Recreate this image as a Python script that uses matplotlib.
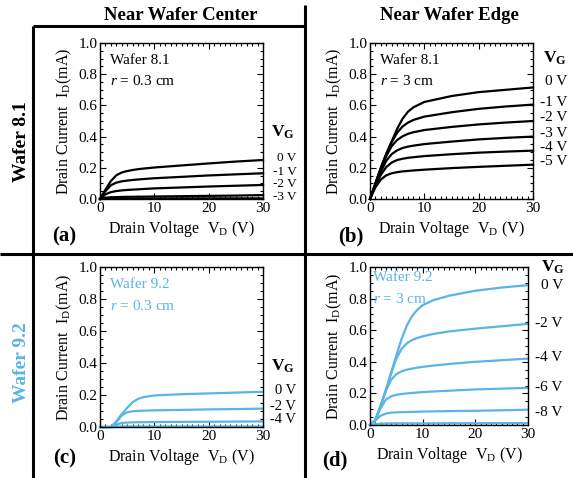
import matplotlib
matplotlib.use("Agg")
import matplotlib.pyplot as plt
import matplotlib.transforms as mtrans
from matplotlib.lines import Line2D
from matplotlib.ticker import MultipleLocator, FormatStrFormatter

plt.rcParams['font.family'] = ['Liberation Serif', 'DejaVu Serif']
plt.rcParams['mathtext.fontset'] = 'custom'
plt.rcParams['mathtext.rm'] = 'Liberation Serif'
plt.rcParams['mathtext.it'] = 'Liberation Serif:italic'
plt.rcParams['mathtext.bf'] = 'Liberation Serif:bold'

BLUE = '#5ab4e6'

# ---------------- data ----------------
vd_grid = [0, 1, 2, 3, 4, 5, 6, 7, 8, 10, 15, 20, 25, 30]
vd_grid_d = [0, 1, 2, 3, 4, 5, 6, 7, 8, 9, 10, 12, 15, 20, 25, 30]

# (a) Wafer 8.1, r = 0.3 cm
a_labels = ['0 V', '-1 V', '-2 V', '-3 V']
a_curves = [
    [0, 0.06, 0.115, 0.152, 0.17, 0.179, 0.186, 0.191, 0.195, 0.202, 0.215, 0.228, 0.24, 0.25],
    [0, 0.05, 0.088, 0.105, 0.113, 0.118, 0.122, 0.125, 0.128, 0.133, 0.142, 0.151, 0.158, 0.165],
    [0, 0.03, 0.044, 0.051, 0.055, 0.058, 0.06, 0.062, 0.064, 0.068, 0.074, 0.08, 0.085, 0.09],
    [0, 0.008, 0.011, 0.012, 0.013, 0.014, 0.014, 0.015, 0.015, 0.016, 0.018, 0.02, 0.022, 0.025],
    [0, 0.002, 0.003, 0.003, 0.003, 0.003, 0.003, 0.003, 0.003, 0.003, 0.004, 0.004, 0.004, 0.004],
]
a_label_y = [0.262, 0.176, 0.095, 0.014]

# (b) Wafer 8.1, r = 3 cm
b_labels = ['0 V', '-1 V', '-2 V', '-3 V', '-4 V', '-5 V']
b_curves = [
    [0, 0.10, 0.20, 0.29, 0.37, 0.45, 0.515, 0.56, 0.588, 0.622, 0.66, 0.685, 0.70, 0.715],
    [0, 0.10, 0.20, 0.29, 0.365, 0.425, 0.465, 0.49, 0.507, 0.528, 0.556, 0.578, 0.593, 0.605],
    [0, 0.10, 0.19, 0.275, 0.34, 0.378, 0.402, 0.418, 0.428, 0.442, 0.462, 0.478, 0.49, 0.50],
    [0, 0.09, 0.175, 0.245, 0.288, 0.312, 0.327, 0.336, 0.342, 0.352, 0.368, 0.382, 0.392, 0.40],
    [0, 0.085, 0.155, 0.205, 0.234, 0.25, 0.258, 0.264, 0.268, 0.275, 0.287, 0.297, 0.304, 0.31],
    [0, 0.075, 0.125, 0.152, 0.165, 0.172, 0.177, 0.18, 0.183, 0.188, 0.198, 0.206, 0.213, 0.22],
]
b_label_y = [0.75, 0.62, 0.52, 0.42, 0.33, 0.24]

# (c) Wafer 9.2, r = 0.3 cm
c_labels = ['0 V', '-2 V', '-4 V']
c_curves = [
    [0, 0, 0, 0.035, 0.08, 0.12, 0.155, 0.176, 0.187, 0.197, 0.205, 0.21, 0.215, 0.22],
    [0, 0, 0, 0.03, 0.072, 0.092, 0.098, 0.101, 0.102, 0.104, 0.107, 0.11, 0.112, 0.115],
    [0, 0, 0, 0.015, 0.025, 0.028, 0.029, 0.03, 0.03, 0.031, 0.032, 0.033, 0.034, 0.035],
    [0, 0, 0, 0.002, 0.003, 0.003, 0.003, 0.003, 0.003, 0.003, 0.003, 0.003, 0.003, 0.003],
]
c_label_y = [0.225, 0.125, 0.045]

# (d) Wafer 9.2, r = 3 cm
d_labels = ['0 V', '-2 V', '-4 V', '-6 V', '-8 V']
d_curves = [
    [0, 0.03, 0.12, 0.22, 0.33, 0.44, 0.545, 0.63, 0.69, 0.73, 0.758, 0.79, 0.818, 0.85, 0.87, 0.885],
    [0, 0.03, 0.12, 0.22, 0.325, 0.42, 0.482, 0.517, 0.538, 0.551, 0.561, 0.576, 0.592, 0.61, 0.625, 0.64],
    [0, 0.03, 0.12, 0.215, 0.285, 0.322, 0.34, 0.35, 0.357, 0.363, 0.368, 0.376, 0.386, 0.40, 0.41, 0.42],
    [0, 0.03, 0.105, 0.16, 0.182, 0.191, 0.196, 0.2, 0.203, 0.206, 0.208, 0.212, 0.217, 0.225, 0.23, 0.235],
    [0, 0.03, 0.058, 0.072, 0.078, 0.08, 0.081, 0.082, 0.083, 0.084, 0.085, 0.086, 0.088, 0.09, 0.093, 0.097],
    [0, 0.005, 0.008, 0.009, 0.01, 0.01, 0.01, 0.01, 0.01, 0.01, 0.01, 0.01, 0.011, 0.011, 0.012, 0.012],
]
d_label_y = [0.886, 0.645, 0.43, 0.24, 0.08]

W, H = 573, 478
fig = plt.figure(figsize=(W / 100, H / 100), dpi=100)


def add_ax(x0, y0, x1, y1):
    return fig.add_axes([x0 / W, 1 - y1 / H, (x1 - x0) / W, (y1 - y0) / H])


def style(ax):
    ax.set_xlim(0, 30)
    ax.set_ylim(0, 1.0)
    ax.xaxis.set_major_locator(MultipleLocator(10))
    ax.xaxis.set_minor_locator(MultipleLocator(1))
    ax.yaxis.set_major_locator(MultipleLocator(0.2))
    ax.yaxis.set_minor_locator(MultipleLocator(0.05))
    ax.yaxis.set_major_formatter(FormatStrFormatter('%.1f'))
    ax.tick_params(which='both', direction='in', top=True, right=True,
                   labelsize=11, pad=2, width=0.8)
    ax.tick_params(which='major', length=4)
    ax.tick_params(which='minor', length=2)
    for s in ax.spines.values():
        s.set_linewidth(1.0)
    ax.set_xlabel(r'Drain Voltage  V$_{\mathrm{D}}$ (V)', fontsize=11.5, labelpad=3)
    ax.set_ylabel(r'Drain Current  I$_{\mathrm{D}}$(mA)', fontsize=11.5, labelpad=3)


def right_labels(ax, labels, ys, vg_y, xr, vg_x, fs=11):
    tr = mtrans.blended_transform_factory(ax.transAxes, ax.transData)
    for lab, y in zip(labels, ys):
        ax.text(xr, y, lab, transform=tr, ha='right', va='center',
                fontsize=fs, color='black', clip_on=False)
    ax.text(vg_x, vg_y, r'$\mathbf{V}_{\mathbf{G}}$', transform=tr,
            ha='left', va='center', fontsize=12.5, clip_on=False)


# (a)
axa = add_ax(100, 43, 263, 199)
for ys in a_curves:
    axa.plot(vd_grid, ys, color='black', lw=1.6, clip_on=False)
style(axa)
axa.text(0.06, 0.93, 'Wafer 8.1', transform=axa.transAxes, fontsize=11, va='top')
axa.text(0.06, 0.80, r'$r$ = 0.3 cm', transform=axa.transAxes, fontsize=11, va='top')
right_labels(axa, a_labels, a_label_y, 0.43, xr=1.205, vg_x=1.05, fs=9.5)

# (b)
axb = add_ax(370, 43, 533, 199)
for ys in b_curves:
    axb.plot(vd_grid, ys, color='black', lw=1.6, clip_on=False)
style(axb)
axb.text(0.06, 0.93, 'Wafer 8.1', transform=axb.transAxes, fontsize=11, va='top')
axb.text(0.06, 0.80, r'$r$ = 3 cm', transform=axb.transAxes, fontsize=11, va='top')
right_labels(axb, b_labels, b_label_y, 0.90, xr=1.21, vg_x=1.06)

# (c)
axc = add_ax(100, 267, 263, 427)
for ys in c_curves:
    axc.plot(vd_grid, ys, color=BLUE, lw=1.6, clip_on=False)
style(axc)
axc.text(0.06, 0.93, 'Wafer 9.2', transform=axc.transAxes, fontsize=11, va='top', color=BLUE)
axc.text(0.06, 0.80, r'$r$ = 0.3 cm', transform=axc.transAxes, fontsize=11, va='top', color=BLUE)
right_labels(axc, c_labels, c_label_y, 0.38, xr=1.205, vg_x=1.05, fs=10.5)

# (d)
axd = add_ax(370, 267, 528, 425)
for ys in d_curves:
    axd.plot(vd_grid_d, ys, color=BLUE, lw=1.6, clip_on=False)
style(axd)
axd.text(0.02, 0.975, 'Wafer 9.2', transform=axd.transAxes, fontsize=11, va='top', color=BLUE)
axd.text(0.02, 0.84, r'$r$ = 3 cm', transform=axd.transAxes, fontsize=11, va='top', color=BLUE)
right_labels(axd, d_labels, d_label_y, 1.0, xr=1.22, vg_x=1.08)

# panel letters
for txt, x, y in [('(a)', 52, 236), ('(b)', 338, 236), ('(c)', 53, 458), ('(d)', 322, 460)]:
    fig.text(x / W, 1 - y / H, txt, fontsize=15, fontweight='bold', ha='left', va='center')

# column / row titles
fig.text(181 / W, 1 - 15 / H, 'Near Wafer Center', fontsize=13.5, fontweight='bold', ha='center', va='center')
fig.text(449 / W, 1 - 15 / H, 'Near Wafer Edge', fontsize=13.5, fontweight='bold', ha='center', va='center')
fig.text(22 / W, 1 - 142 / H, 'Wafer 8.1', fontsize=14, fontweight='bold', rotation=90, ha='center', va='center')
fig.text(22 / W, 1 - 363 / H, 'Wafer 9.2', fontsize=14, fontweight='bold', rotation=90, ha='center', va='center', color=BLUE)


def fline(x0, y0, x1, y1):
    fig.add_artist(Line2D([x0 / W, x1 / W], [1 - y0 / H, 1 - y1 / H], transform=fig.transFigure,
                          color='black', lw=2.2, solid_capstyle='butt'))


fline(33, 26, 305, 26)
fline(33, 26, 33, 478)
fline(305, 5, 305, 478)
fline(0, 254, 573, 254)

fig.savefig('out.png', dpi=100)
